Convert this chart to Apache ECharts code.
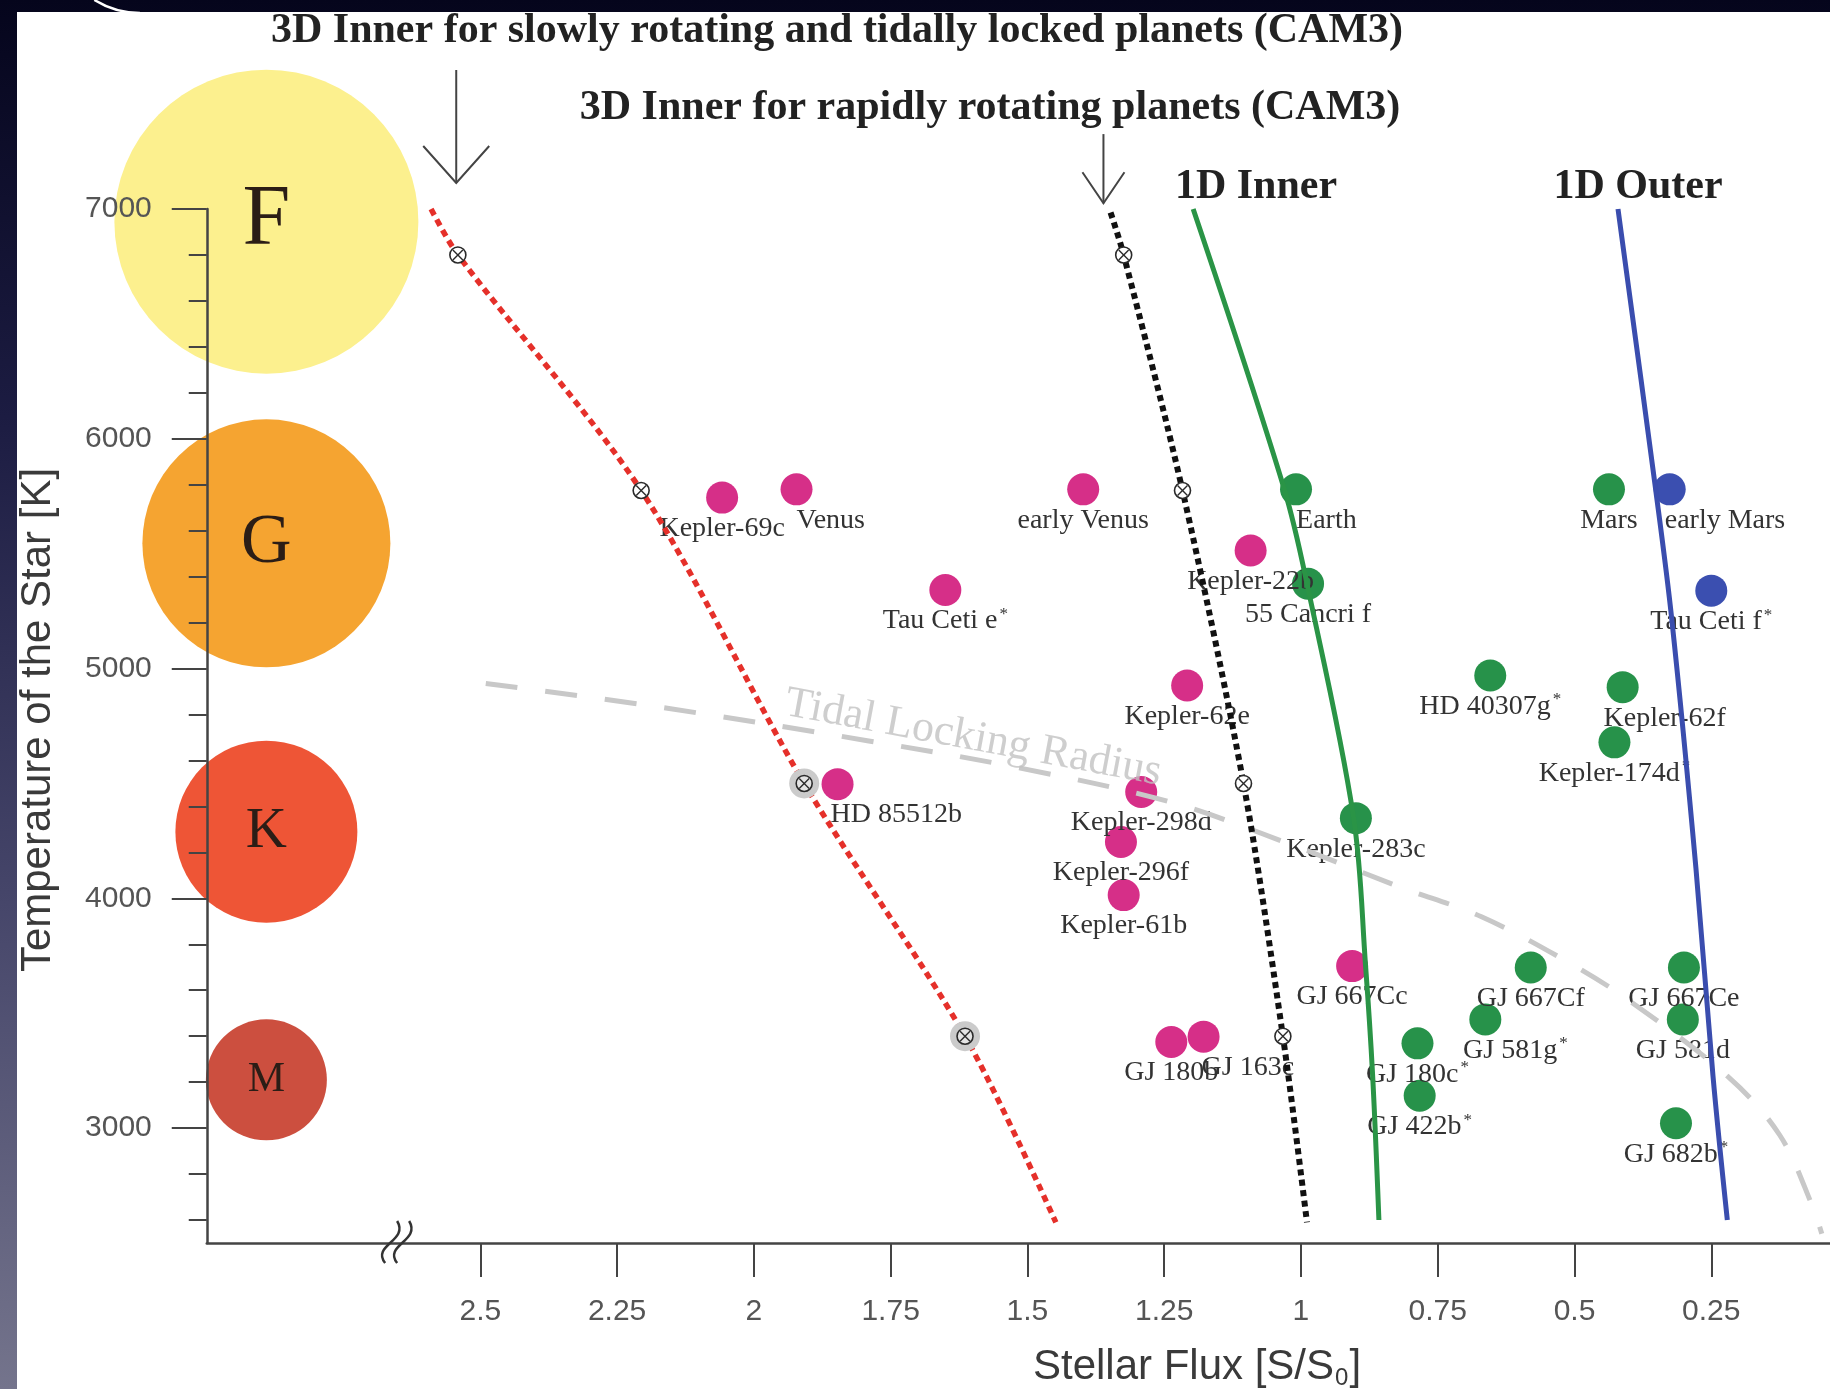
<!DOCTYPE html>
<html><head><meta charset="utf-8">
<script src="https://cdn.jsdelivr.net/npm/echarts@6/dist/echarts.min.js"></script>
<style>
html,body{margin:0;padding:0;width:1830px;height:1389px;overflow:hidden;}
body{background:linear-gradient(to bottom,#05051c 0%,#1c1c42 30%,#46466a 65%,#74748c 100%);}
#paper{position:absolute;left:17px;top:12px;right:0;bottom:0;background:#fff;}
#chart{position:absolute;left:0;top:0;width:1830px;height:1389px;}
</style></head><body><div id="paper"></div><div id="chart"></div>
<script>
// ---------------- DATA ----------------
const xTicks = [0.25, 0.5, 0.75, 1, 1.25, 1.5, 1.75, 2, 2.25, 2.5];
const xTickLabels = ['0.25', '0.5', '0.75', '1', '1.25', '1.5', '1.75', '2', '2.25', '2.5'];
const yTicks = [3000, 4000, 5000, 6000, 7000];
const yTickLabels = ['3000', '4000', '5000', '6000', '7000'];
const yMinorTicks = [2600, 2800, 3200, 3400, 3600, 3800, 4200, 4400, 4600, 4800,
                     5200, 5400, 5600, 5800, 6200, 6400, 6600, 6800];

const starClasses = ['F', 'G', 'K', 'M'];
const starTemps = [6945, 5545, 4290, 3210];

// magenta planets (inside inner edge)
const hotNames = ['Kepler-69c', 'Venus', 'early Venus', 'Tau Ceti e*', 'Kepler-22b', 'Kepler-62e',
                  'HD 85512b', 'Kepler-298d', 'Kepler-296f', 'Kepler-61b', 'GJ 667Cc', 'GJ 180b', 'GJ 163c'];
const hotFlux = [2.058, 1.922, 1.398, 1.650, 1.092, 1.208, 1.847, 1.292, 1.329, 1.324, 0.9065, 1.237, 1.178];
const hotTemp = [5744, 5780, 5780, 5342, 5514, 4926, 4497, 4463, 4245, 4014, 3705, 3375, 3398];

// green planets (habitable zone)
const hzNames = ['Earth', '55 Cancri f', 'Kepler-283c', 'Mars', 'HD 40307g*', 'Kepler-62f', 'Kepler-174d*',
                 'GJ 667Cf', 'GJ 581g*', 'GJ 180c*', 'GJ 422b*', 'GJ 667Ce', 'GJ 581d', 'GJ 682b*'];
const hzFlux = [1.009, 0.987, 0.8996, 0.437, 0.654, 0.412, 0.427, 0.580, 0.663, 0.787, 0.783, 0.300, 0.302, 0.3145];
const hzTemp = [5780, 5369, 4349, 5780, 4970, 4919, 4679, 3699, 3473, 3369, 3141, 3699, 3473, 3021];

// blue planets (beyond outer edge)
const coldNames = ['early Mars', 'Tau Ceti f*'];
const coldFlux = [0.326, 0.250];
const coldTemp = [5780, 5339];

// boundaries
const slowInnerFlux = [2.590, 2.541, 2.206, 1.908, 1.614, 1.448];
const slowInnerTemp = [7000, 6800, 5775, 4500, 3400, 2590];
const rapidInnerFlux = [1.348, 1.324, 1.2165, 1.105, 1.033, 0.989];
const rapidInnerTemp = [6985, 6800, 5775, 4500, 3400, 2590];
const inner1DFlux = [1.197, 1.031, 0.989, 0.904, 0.882, 0.869, 0.8575];
const inner1DTemp = [7000, 5785, 5370, 4355, 3710, 3230, 2600];
const outer1DFlux = [0.4205, 0.352, 0.322, 0.278, 0.247, 0.2207];
const outer1DTemp = [7000, 5785, 5210, 4130, 3230, 2600];
const tidalFlux = [2.49, 2.18, 1.79, 1.52, 1.24, 1.03, 0.82, 0.67, 0.51, 0.40, 0.22, 0.125, 0.065, 0.048];
const tidalTemp = [4935, 4835, 4685, 4570, 4420, 4245, 4050, 3920, 3720, 3555, 3225, 2970, 2660, 2540];

// simulated stars (3D CAM3 runs)
const simTemps = [6800, 5775, 4500, 3400];
const slowSimFlux = [2.541, 2.206, 1.908, 1.614];
const rapidSimFlux = [1.324, 1.2165, 1.105, 1.033];

// annotations
const arrowFlux = [2.544, 1.361];
const arrowTipTemp = [7113, 7025];
const arrowTailTemp = [7605, 7326];
const tidalLabelFlux = [1.599];
const tidalLabelTemp = [4697];
const breakFlux = [2.652];
const breakTemp = [2500];

// ---------------- STYLE ----------------
const SERIF = '"Liberation Serif","Times New Roman",Times,serif';
const SANS = '"Liberation Sans",Arial,Helvetica,sans-serif';
const STAR_FLUX_POS = 2.891;
const STAR_COLORS = ['#FCF08E', '#F5A431', '#EE5536', '#CC4F3F'];
const STAR_SIZES = [304, 248, 182, 121];
const STAR_FONTS = [86, 70, 57, 42];
const MAGENTA = '#D62F88', GREEN = '#27924A', BLUE = '#3B4FB0';
const LABEL_TWEAK = {
  'Venus': {align: 'left', offset: [0, 0]},
  'Earth': {align: 'left', offset: [0, 0]},
  'early Mars': {align: 'left', offset: [-5, 0]},
  'HD 85512b': {align: 'left', offset: [-7, 0]},
  'GJ 163c': {align: 'left', offset: [-2, 0]},
  'Kepler-62f': {offset: [42, 0]},
  'GJ 581g*': {offset: [30, 0]}
};
const ARROW_HEAD = [[33, 37], [21, 31]];
const HALO_FROM = 2;

function fmtName(n) {
  if (n.endsWith('*')) return '{n|' + n.slice(0, -1) + '}{s|*}';
  return '{n|' + n + '}';
}
const richLabel = {
  n: {fontFamily: SERIF, fontSize: 28, color: '#333', lineHeight: 30},
  s: {fontFamily: SERIF, fontSize: 17, color: '#333', lineHeight: 17, verticalAlign: 'top', padding: [0, 0, 0, 2]}
};

function planetSeries(names, flux, temp, color) {
  return {
    type: 'scatter', z: 2, clip: false, symbolSize: 32,
    itemStyle: {color: color, opacity: 1},
    emphasis: {disabled: true},
    label: {show: true, position: 'bottom', distance: 0, formatter: p => fmtName(p.name), rich: richLabel},
    data: names.map((n, i) => {
      const d = {name: n, value: [flux[i], temp[i]]};
      if (LABEL_TWEAK[n]) d.label = LABEL_TWEAK[n];
      return d;
    })
  };
}

function lineSeries(flux, temp, color, width, type, z, smooth) {
  return {
    type: 'line', z: z, clip: false, symbol: 'none', smooth: smooth, silent: true,
    lineStyle: {color: color, width: width, type: type, cap: 'butt'},
    data: flux.map((f, i) => [f, temp[i]])
  };
}

function simSeries(flux, halo) {
  return {
    type: 'custom', z: 6, clip: false, silent: true,
    encode: {x: 0, y: 1},
    data: flux.map((f, i) => [f, simTemps[i], i]),
    renderItem: (params, api) => {
      const c = api.coord([api.value(0), api.value(1)]);
      const idx = api.value(2);
      const hasHalo = halo && idx >= HALO_FROM;
      const r = 8, k = r * 0.62;
      const ch = [];
      if (hasHalo) ch.push({type: 'circle', shape: {cx: c[0], cy: c[1], r: 15}, style: {fill: '#cbcbcb'}});
      ch.push({type: 'circle', shape: {cx: c[0], cy: c[1], r: r},
               style: {fill: hasHalo ? '#e4e4e4' : '#ffffff', stroke: '#2a2a2a', lineWidth: 1.6}});
      ch.push({type: 'line', shape: {x1: c[0] - k, y1: c[1] - k, x2: c[0] + k, y2: c[1] + k}, style: {stroke: '#2a2a2a', lineWidth: 1.4}});
      ch.push({type: 'line', shape: {x1: c[0] - k, y1: c[1] + k, x2: c[0] + k, y2: c[1] - k}, style: {stroke: '#2a2a2a', lineWidth: 1.4}});
      return {type: 'group', children: ch};
    }
  };
}

const chart = echarts.init(document.getElementById('chart'), null, {renderer: 'canvas'});

const option = {
  backgroundColor: 'transparent',
  animation: false,
  grid: {left: 206.75, top: 209, right: 0, height: 1034, containLabel: false},
  xAxis: {
    type: 'value', min: 0.033, max: 3, inverse: true, z: 10,
    axisLine: {show: true, onZero: false, lineStyle: {color: '#444', width: 2.5}},
    axisTick: {show: true, customValues: xTicks, length: 34, inside: false, lineStyle: {color: '#444', width: 2}},
    axisLabel: {show: true, customValues: xTicks, margin: 54, fontFamily: SANS, fontSize: 30, color: '#555',
                formatter: v => { const i = xTicks.indexOf(v); return i >= 0 ? xTickLabels[i] : ''; }},
    splitLine: {show: false}
  },
  yAxis: [{
    type: 'value', min: 2500, max: 7000, z: 10,
    axisLine: {show: true, onZero: false, lineStyle: {color: '#444', width: 2.5}},
    axisTick: {show: true, customValues: yTicks, length: 35, lineStyle: {color: '#444', width: 2}},
    axisLabel: {show: true, customValues: yTicks, margin: 55, fontFamily: SANS, fontSize: 30, color: '#555',
                formatter: v => { const i = yTicks.indexOf(v); return i >= 0 ? yTickLabels[i] : ''; }},
    splitLine: {show: false}
  }, {
    type: 'value', min: 2500, max: 7000, z: 10, position: 'left',
    axisLine: {show: false, onZero: false},
    axisTick: {show: true, customValues: yMinorTicks, length: 18, lineStyle: {color: '#444', width: 2}},
    axisLabel: {show: false},
    splitLine: {show: false}
  }],
  graphic: [
    {type: 'arc', z: 100, shape: {cx: 140, cy: -73, r: 86, startAngle: Math.PI / 2, endAngle: 2.13},
     style: {stroke: '#ffffff', lineWidth: 2.5, fill: null}},
    {type: 'text', x: 837, y: 31, z: 100,
     style: {text: '3D Inner for slowly rotating and tidally locked planets (CAM3)', fontFamily: SERIF, fontWeight: 'bold',
             fontSize: 42, fill: '#222', align: 'center', verticalAlign: 'middle'}},
    {type: 'text', x: 990, y: 108, z: 100,
     style: {text: '3D Inner for rapidly rotating planets (CAM3)', fontFamily: SERIF, fontWeight: 'bold',
             fontSize: 42, fill: '#222', align: 'center', verticalAlign: 'middle'}},
    {type: 'text', x: 1256, y: 187, z: 100,
     style: {text: '1D Inner', fontFamily: SERIF, fontWeight: 'bold', fontSize: 42, fill: '#222', align: 'center', verticalAlign: 'middle'}},
    {type: 'text', x: 1638, y: 187, z: 100,
     style: {text: '1D Outer', fontFamily: SERIF, fontWeight: 'bold', fontSize: 42, fill: '#222', align: 'center', verticalAlign: 'middle'}},
    {type: 'text', x: 38, y: 720, rotation: Math.PI / 2, z: 100,
     style: {text: 'Temperature of the Star [K]', fontFamily: SANS, fontSize: 42, fill: '#3a3a3a', align: 'center', verticalAlign: 'middle'}},
    {type: 'text', x: 1197, y: 1367, z: 100,
     style: {text: '{m|Stellar Flux [S/S}{sub|0}{m|]}', align: 'center', verticalAlign: 'middle',
             rich: {m: {fontFamily: SANS, fontSize: 42, fill: '#3a3a3a', lineHeight: 46},
                    sub: {fontFamily: SANS, fontSize: 24, fill: '#3a3a3a', lineHeight: 24, verticalAlign: 'bottom', padding: [0, 1, 0, 1]}}}}
  ],
  series: [
    // spectral-class stars
    {
      type: 'scatter', z: 1, clip: false, silent: true,
      data: starClasses.map((c, i) => ({
        name: c, value: [STAR_FLUX_POS, starTemps[i]], symbolSize: STAR_SIZES[i],
        itemStyle: {color: STAR_COLORS[i], opacity: 1},
        label: {fontSize: STAR_FONTS[i]}
      })),
      label: {show: true, position: 'inside', formatter: p => p.name, fontFamily: SERIF, color: '#2b1d16'}
    },
    planetSeries(hotNames, hotFlux, hotTemp, MAGENTA),
    planetSeries(hzNames, hzFlux, hzTemp, GREEN),
    planetSeries(coldNames, coldFlux, coldTemp, BLUE),
    // tidal locking radius
    lineSeries(tidalFlux, tidalTemp, '#c8c8c8', 5, [32, 28], 3, 0.35),
    {
      type: 'scatter', z: 3, clip: false, silent: true, symbolSize: 1,
      itemStyle: {color: 'transparent'},
      data: tidalLabelFlux.map((f, i) => [f, tidalLabelTemp[i]]),
      label: {show: true, position: 'inside', formatter: 'Tidal Locking Radius', rotate: -10.6,
              fontFamily: SERIF, fontSize: 44, color: '#c2c2c2'}
    },
    // HZ boundaries
    lineSeries(slowInnerFlux, slowInnerTemp, '#E5302A', 5.5, [7, 5], 4, 0.3),
    lineSeries(rapidInnerFlux, rapidInnerTemp, '#111111', 6, [6, 4.5], 4, 0.3),
    lineSeries(inner1DFlux, inner1DTemp, '#2A9446', 5, 'solid', 4, 0.35),
    lineSeries(outer1DFlux, outer1DTemp, '#3A4DAE', 5, 'solid', 4, 0.35),
    simSeries(slowSimFlux, true),
    simSeries(rapidSimFlux, false),
    // arrows
    {
      type: 'custom', z: 6, clip: false, silent: true, encode: {x: 0, y: 1},
      data: arrowFlux.map((f, i) => [f, arrowTipTemp[i], arrowTailTemp[i], i]),
      renderItem: (params, api) => {
        const tip = api.coord([api.value(0), api.value(1)]);
        const tail = api.coord([api.value(0), api.value(2)]);
        const hd = ARROW_HEAD[api.value(3)];
        return {type: 'group', children: [
          {type: 'line', shape: {x1: tail[0], y1: tail[1], x2: tip[0], y2: tip[1]}, style: {stroke: '#444', lineWidth: 2}},
          {type: 'polyline', shape: {points: [[tip[0] - hd[0], tip[1] - hd[1]], [tip[0], tip[1]], [tip[0] + hd[0], tip[1] - hd[1]]]},
           style: {stroke: '#444', lineWidth: 2, fill: null}}
        ]};
      }
    },
    // axis break mark
    {
      type: 'custom', z: 12, clip: false, silent: true, encode: {x: 0, y: 1},
      data: breakFlux.map((f, i) => [f, breakTemp[i]]),
      renderItem: (params, api) => {
        const c = api.coord([api.value(0), api.value(1)]);
        const mk = dx => ({type: 'bezierCurve',
          shape: {x1: c[0] - 14 + dx, y1: c[1] + 20, cpx1: c[0] - 28 + dx, cpy1: c[1] + 2,
                  cpx2: c[0] + 10 + dx, cpy2: c[1] - 2, x2: c[0] - 2 + dx, y2: c[1] - 22},
          style: {stroke: '#333', lineWidth: 2.5, fill: null}});
        return {type: 'group', children: [mk(2), mk(14)]};
      }
    }
  ]
};
chart.setOption(option);
</script></body></html>
